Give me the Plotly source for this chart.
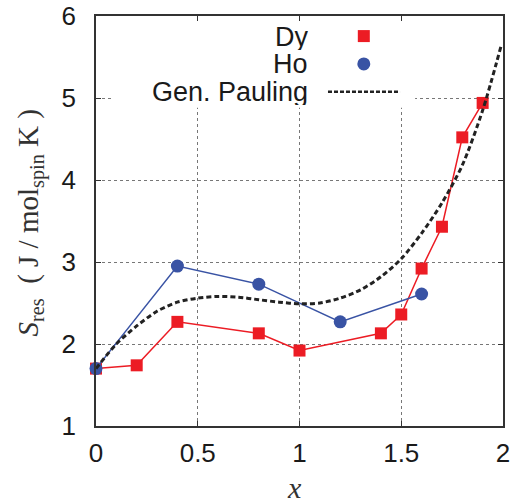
import plotly.graph_objects as go

# Data
dy_x = [0.0, 0.2, 0.4, 0.8, 1.0, 1.4, 1.5, 1.6, 1.7, 1.8, 1.9]
dy_y = [1.70, 1.74, 2.27, 2.13, 1.92, 2.13, 2.36, 2.92, 3.43, 4.52, 4.94]

ho_x = [0.0, 0.4, 0.8, 1.2, 1.6]
ho_y = [1.70, 2.95, 2.73, 2.27, 2.61]

pauling_x = [0.0, 0.1, 0.2, 0.3, 0.4, 0.5, 0.6, 0.7, 0.8, 0.9, 1.0,
             1.1, 1.2, 1.3, 1.4, 1.5, 1.6, 1.7, 1.8, 1.9, 1.99]
pauling_y = [1.70, 2.00, 2.22, 2.40, 2.51, 2.56, 2.58, 2.57, 2.54, 2.51, 2.49,
             2.50, 2.56, 2.66, 2.82, 3.04, 3.35, 3.72, 4.18, 4.85, 5.63]

x_ticks = [0, 0.5, 1, 1.5, 2]
x_tick_labels = ["0", "0.5", "1", "1.5", "2"]
y_ticks = [1, 2, 3, 4, 5, 6]
y_tick_labels = ["1", "2", "3", "4", "5", "6"]

legend_labels = ["Dy", "Ho", "Gen. Pauling"]

RED = "#ec1c24"
BLUE = "#3953a4"
BLACK = "#222222"

fig = go.Figure()

fig.add_trace(go.Scatter(
    x=dy_x, y=dy_y, mode="lines+markers", name=legend_labels[0],
    line=dict(color=RED, width=1.5),
    marker=dict(symbol="square", size=12, color=RED),
    cliponaxis=False, showlegend=False))

fig.add_trace(go.Scatter(
    x=ho_x, y=ho_y, mode="lines+markers", name=legend_labels[1],
    line=dict(color=BLUE, width=1.5),
    marker=dict(symbol="circle", size=13, color=BLUE),
    cliponaxis=False, showlegend=False))

fig.add_trace(go.Scatter(
    x=pauling_x, y=pauling_y, mode="lines", name=legend_labels[2],
    line=dict(color=BLACK, width=3, dash="5px,3px", shape="spline", smoothing=0.8),
    cliponaxis=False, showlegend=False))

tick_font = dict(family="Liberation Sans, Arial, sans-serif", size=26, color="#1a1a1a")

fig.update_xaxes(
    range=[0, 2], tickvals=x_ticks, ticktext=x_tick_labels, automargin=False,
    ticklabeloverflow="allow",
    showgrid=True, gridcolor="#777777", griddash="dot", gridwidth=1,
    zeroline=False, showline=True, linecolor="#333333", linewidth=1.5, mirror="ticks",
    ticks="inside", ticklen=5, tickcolor="#333333",
    tickfont=tick_font, ticklabelstandoff=3)
fig.update_yaxes(
    range=[1, 6], tickvals=y_ticks, ticktext=y_tick_labels, automargin=False,
    ticklabeloverflow="allow",
    showgrid=True, gridcolor="#777777", griddash="dot", gridwidth=1,
    zeroline=False, showline=True, linecolor="#333333", linewidth=1.5, mirror="ticks",
    ticks="inside", ticklen=5, tickcolor="#333333",
    tickfont=tick_font, ticklabelstandoff=13)

# White legend box covering gridlines
fig.add_shape(type="rect", xref="x", yref="y", x0=0.084, x1=1.568, y0=4.88, y1=5.93,
              fillcolor="white", line=dict(width=0), layer="above")

legend_font = dict(family="Liberation Sans, Arial, sans-serif", size=27, color="#1a1a1a")
leg_y = [0.949, 0.882, 0.815]
for lbl, yy in zip(legend_labels, leg_y):
    fig.add_annotation(text=lbl, xref="paper", yref="paper", x=0.527, y=yy,
                       xanchor="right", yanchor="middle", showarrow=False,
                       height=26, font=legend_font)

fig.add_shape(type="rect", xref="paper", yref="paper", xsizemode="pixel", ysizemode="pixel",
              xanchor=0.658, yanchor=0.951, x0=-6, x1=6, y0=-6, y1=6,
              fillcolor=RED, line=dict(width=0), layer="above")
fig.add_shape(type="circle", xref="paper", yref="paper", xsizemode="pixel", ysizemode="pixel",
              xanchor=0.658, yanchor=0.883, x0=-6.5, x1=6.5, y0=-6.5, y1=6.5,
              fillcolor=BLUE, line=dict(width=0), layer="above")
fig.add_shape(type="line", xref="paper", yref="paper", x0=0.570, x1=0.747, y0=0.815, y1=0.815,
              line=dict(color=BLACK, width=2.5, dash="4px,2px"), layer="above")

# Axis titles
serif = "Liberation Serif, DejaVu Serif, serif"
fig.add_annotation(text="<i>S</i><sub>res</sub>  ( J / mol<sub>spin</sub> K )",
                   xref="paper", yref="paper", x=-0.162, y=0.494, textangle=-90,
                   xanchor="center", yanchor="middle", showarrow=False,
                   font=dict(family=serif, size=29, color="#333333"))
fig.add_annotation(text="<i>x</i>", xref="paper", yref="paper", x=0.488, y=-0.151,
                   xanchor="center", yanchor="middle", showarrow=False,
                   font=dict(family=serif, size=30, color="#333333"))

fig.update_layout(
    width=526, height=504,
    margin=dict(l=96, r=23, t=16, b=78),
    plot_bgcolor="white", paper_bgcolor="white",
    showlegend=False)

# Remove the browser's default 8px body margin so the figure fills the window exactly
fig.write_html("out.html", config={"displayModeBar": False},
               post_script="document.body.style.margin='0px';")
